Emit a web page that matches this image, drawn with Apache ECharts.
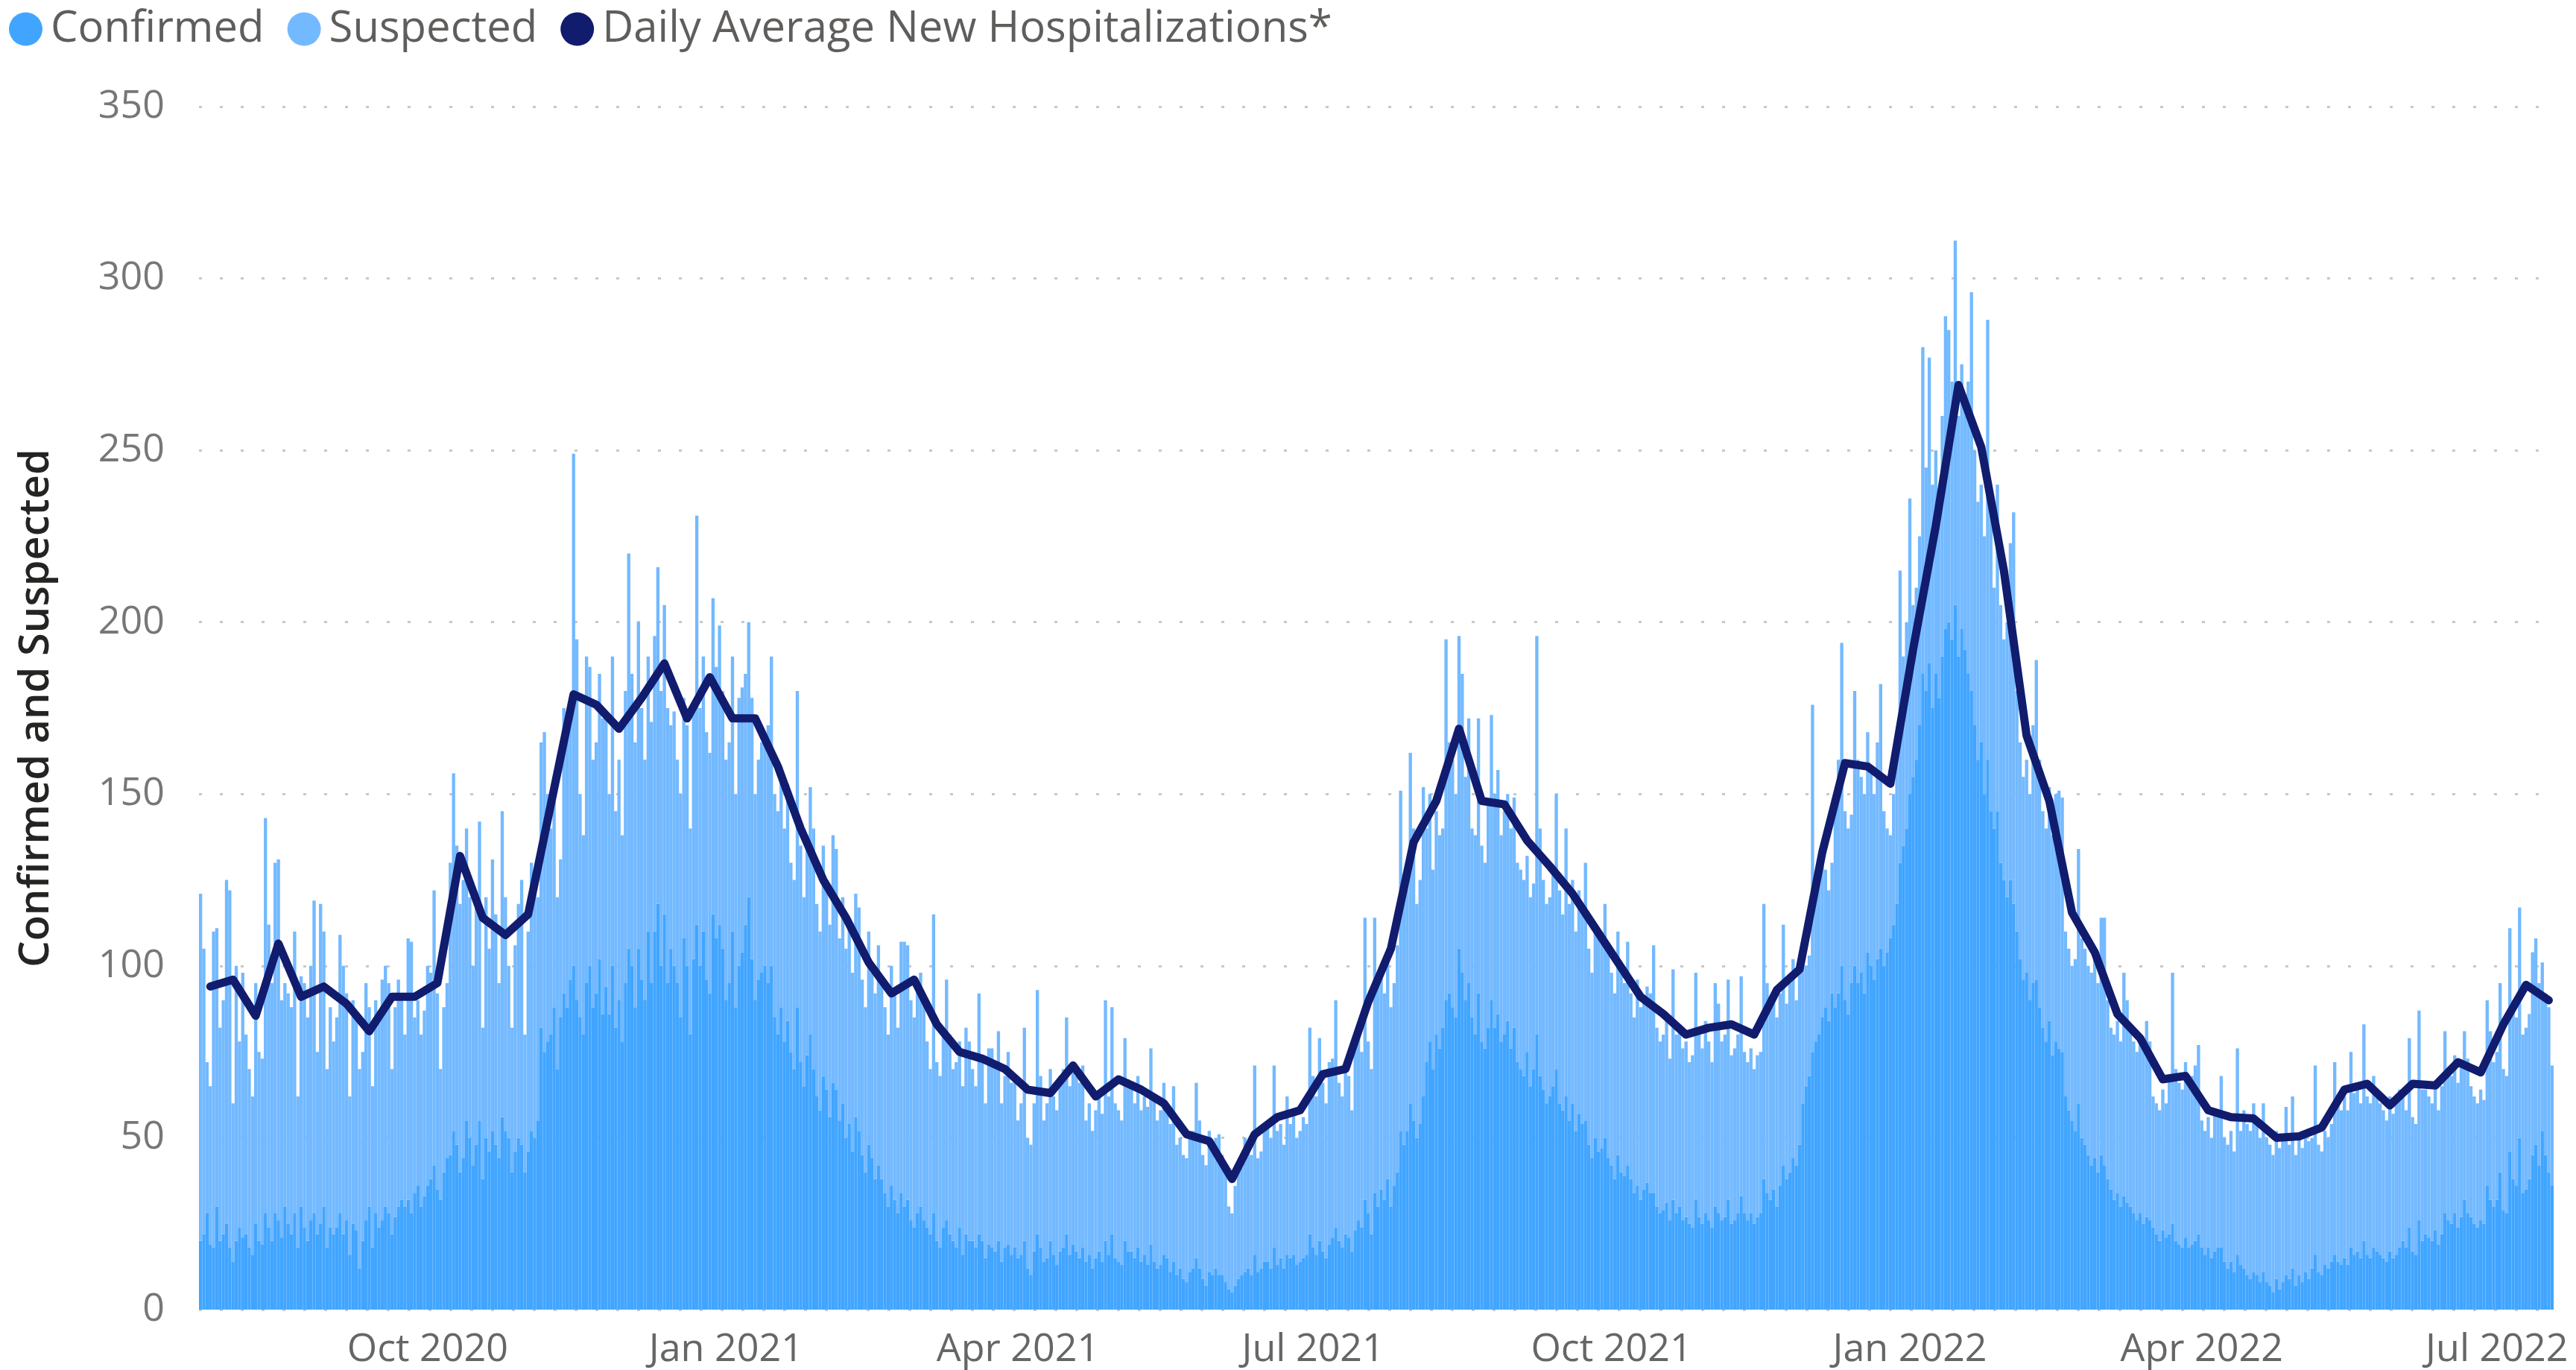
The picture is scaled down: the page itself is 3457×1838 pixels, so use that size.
<!DOCTYPE html>
<html>
<head>
<meta charset="utf-8">
<title>Confirmed and Suspected</title>
<script src="https://cdn.jsdelivr.net/npm/echarts@6/dist/echarts.min.js"></script>
<style>
  html, body { margin: 0; padding: 0; background: #fff; }
  #chart { width: 3457px; height: 1838px; }
</style>
</head>
<body>
<div id="chart"></div>
<script>
// daily categories start here, one bar per day
var startDate = '2020-07-23'
var dayCount = 726
var monthNames = ['Jan', 'Feb', 'Mar', 'Apr', 'May', 'Jun', 'Jul', 'Aug', 'Sep', 'Oct', 'Nov', 'Dec']
var labelMonths = ['01', '04', '07', '10']

// confirmed, one line per week
var confirmed = [
  20,22,28,19,18,30,20, 22,25,18,14,20,24,21, 22,18,16,25,20,19,28, 24,20,28,26,21,30,25,
  22,28,18,30,24,20,26, 28,22,25,30,18,24,22, 24,28,22,26,16,25,23, 12,20,26,30,18,28,24,
  26,30,28,22,27,30,32, 30,32,28,34,36,30,33, 36,38,42,35,32,40,44, 45,52,48,40,44,55,50,
  42,48,55,38,50,46,52, 48,44,56,52,50,40,46, 50,48,40,46,52,50,55, 82,75,78,80,88,70,85,
  92,88,96,100,90,85,80, 95,100,88,92,102,86,94, 86,100,82,90,78,95,105, 100,88,105,96,90,110,95,
  110,118,100,115,95,105,100, 95,85,108,100,80,102,112, 100,110,96,92,115,108,112, 105,90,95,110,88,100,104,
  112,120,102,90,96,98,100, 95,100,85,80,88,78,84, 75,70,88,72,65,74,80, 70,62,58,68,64,56,66,
  64,55,60,50,54,46,56, 52,45,40,48,44,38,42, 38,34,30,36,32,28,34, 30,32,26,24,28,30,26,
  24,22,28,20,18,24,26, 22,20,18,24,16,22,20, 20,18,22,20,15,19,18, 17,20,14,18,19,16,18,
  15,16,20,12,10,17,22, 18,14,15,20,16,13,17, 18,22,16,19,17,15,18, 14,16,12,15,17,14,20,
  16,22,15,14,13,20,17, 17,15,18,14,16,13,19, 14,12,13,16,15,11,14, 10,12,9,8,11,12,15,
  12,9,7,11,10,12,10, 10,8,6,5,7,9,10, 11,12,10,16,11,12,14, 14,12,18,13,15,12,16,
  15,16,13,14,15,16,22, 18,16,20,17,15,19,21, 24,20,18,22,21,17,23, 26,24,32,28,22,34,30,
  35,32,38,30,36,40,52, 48,52,60,55,50,54,62, 72,78,70,80,76,82,90, 92,88,85,105,98,90,95,
  85,80,92,78,76,82,90, 82,86,78,80,84,76,82, 72,70,68,75,65,70,80, 68,64,60,62,65,70,60,
  58,62,55,60,52,57,54, 55,48,44,50,46,47,50, 44,42,38,45,40,39,42, 38,34,36,32,35,37,34,
  34,30,28,29,31,26,32, 28,30,26,27,25,24,32, 27,25,28,26,24,30,28, 26,27,32,25,26,28,33,
  28,26,28,25,27,28,38, 34,32,35,30,36,42,38, 40,44,42,48,60,65,68, 75,78,80,85,88,84,92,
  88,92,100,90,86,95,100, 95,98,92,104,100,96,102, 105,100,104,108,112,118,130, 135,140,150,155,160,170,185,
  180,188,175,185,178,190,198, 200,195,205,190,198,192,185, 180,170,160,165,150,160,145, 140,145,130,125,120,125,118,
  110,102,96,98,90,95,96, 88,82,78,84,74,78,76, 75,62,58,55,52,60,50, 48,45,42,44,40,45,42,
  38,35,32,34,30,33,31, 30,28,26,28,25,27,26, 24,22,20,23,21,22,25, 20,19,18,21,18,19,20,
  22,18,16,18,15,17,18, 18,14,12,14,11,16,13, 12,10,9,11,10,8,11, 8,7,5,9,6,8,10,
  9,12,7,10,8,11,9, 12,16,11,10,13,12,14, 16,14,13,15,13,18,16, 17,15,20,16,15,18,17,
  16,15,14,17,15,16,18, 20,18,24,17,16,26,20, 22,21,20,23,19,22,28, 26,25,28,24,27,32,28,
  27,25,24,26,25,36,32, 30,32,40,29,28,46,38, 36,50,34,35,38,45,48, 42,52,45,40,36
]

// suspected, stacked on top of confirmed
var suspected = [
  101,83,44,46,92,81,62, 68,100,104,46,80,54,77, 58,52,46,70,55,54,115, 88,75,102,105,69,65,67,
  66,82,44,67,71,65,74, 91,53,93,80,52,64,56, 61,81,78,66,46,65,62, 58,55,69,58,47,62,60,
  70,70,67,48,61,66,60, 50,76,79,51,54,50,54, 64,60,80,57,38,48,51, 85,104,87,78,81,85,70,
  58,70,87,44,70,59,79, 67,51,89,68,50,42,60, 68,77,40,64,78,72,65, 83,93,72,60,67,50,46,
  83,80,82,149,105,65,58, 95,87,72,73,83,86,79, 64,90,63,70,60,85,115, 85,77,95,79,70,80,76,
  86,98,80,90,80,65,74, 65,65,70,70,60,73,119, 75,80,72,70,92,79,87, 75,70,70,80,62,78,77,
  73,80,76,60,64,67,66, 75,90,65,65,70,62,69, 55,55,92,63,55,64,72, 70,56,52,67,58,56,72,
  70,53,60,55,58,52,65, 65,51,48,62,54,54,64, 57,54,50,64,60,54,73, 77,74,64,61,67,68,65,
  54,48,87,52,50,58,70, 58,50,54,54,49,60,58, 50,47,70,52,45,57,58, 55,61,46,50,56,50,50,
  40,44,62,38,38,43,71, 50,41,45,50,46,45,51, 52,63,49,53,51,51,53, 41,44,40,43,45,43,70,
  46,66,45,44,42,59,50, 48,45,50,44,46,46,57, 48,43,45,50,45,43,51, 38,38,36,36,41,40,51,
  43,36,35,41,38,38,41, 35,32,24,23,29,33,35, 39,36,35,55,33,34,39, 41,38,53,39,39,36,46,
  39,42,37,38,41,38,60, 50,46,59,49,45,53,52, 66,46,44,48,47,41,53, 54,51,82,50,48,80,66,
  63,60,67,58,59,66,99, 77,78,102,85,68,71,90, 68,72,58,65,62,58,105, 73,72,65,91,87,65,77,
  55,58,80,57,54,66,83, 68,71,60,65,66,64,67, 58,58,57,57,55,54,116, 72,61,58,58,63,80,62,
  57,78,63,65,58,65,63, 75,57,54,60,62,61,68, 61,56,54,65,60,56,65, 54,51,60,56,55,57,58,
  72,52,50,51,53,47,67, 52,52,50,51,47,50,66, 53,51,56,52,48,65,61, 52,53,64,49,50,52,64,
  47,46,48,45,47,47,80, 61,56,55,55,56,70,51, 55,58,48,50,45,35,35, 101,42,45,45,40,38,38,
  62,68,94,55,54,49,80, 65,57,58,64,58,54,63, 77,45,36,30,38,47,85, 55,60,86,50,50,55,95,
  65,89,65,65,57,70,91, 85,75,106,70,77,73,85, 116,80,75,75,75,128,95, 70,95,75,70,80,98,114,
  70,63,59,62,60,75,93, 72,63,62,68,64,72,75, 74,48,47,45,50,74,58, 57,55,56,58,55,69,72,
  52,47,48,50,48,65,59, 52,50,49,52,51,57,52, 38,38,38,41,39,45,73, 50,47,46,51,47,49,51,
  55,37,36,38,35,41,40, 50,36,36,38,35,60,39, 46,44,43,49,45,42,49, 42,41,40,43,41,41,49,
  39,50,38,40,39,41,40, 38,55,37,36,39,38,40, 56,46,45,47,45,57,47, 47,45,63,46,45,50,46,
  44,43,41,45,42,44,46, 42,40,55,39,38,61,44, 42,41,40,43,39,43,53, 44,43,46,42,45,49,45,
  38,37,36,38,36,54,49, 42,43,55,41,40,65,52, 49,67,46,47,48,59,60, 53,49,47,48,35
]

// weekly points of the line, first one on day index 3 then every 7 days
var hospAvg = [
  94, 96, 85.5, 106.5, 91, 94, 89, 81, 91, 91,
  95, 132, 114, 109, 115, 147, 179, 176, 169, 178,
  188, 172, 184, 172, 172, 158, 140, 125, 114, 101,
  92, 96, 83, 75, 73, 70, 64, 63, 71, 62,
  67, 64, 60, 51, 49, 38, 51, 56, 58, 68.5,
  70, 89.5, 105, 136, 148, 169, 148, 147, 136.5, 129,
  121, 111, 101, 91, 86, 80, 82, 83, 80, 93,
  99, 133, 159, 158, 153, 192, 228, 269, 251, 215,
  167, 148, 115.5, 104, 86, 79, 67, 68, 58, 56,
  55.6, 50, 50.4, 53, 64, 65.7, 59.4, 65.7, 65.2, 72,
  69, 83, 94.5, 90
]
var hospFirst = 3
var hospStep = 7

var days = []
var t0 = Date.parse(startDate + 'T00:00:00Z')
for (var i = 0; i < dayCount; i++) {
  days.push(new Date(t0 + i * 86400000).toISOString().slice(0, 10))
}
var hospLine = days.map(function() { return null })
hospAvg.forEach(function(v, k) {
  hospLine[hospFirst + k * hospStep] = v
})

var font = "'Segoe UI', 'Open Sans', sans-serif"
var chart = echarts.init(document.getElementById('chart'))
var option = {
  animation: false,
  backgroundColor: '#ffffff',
  legend: {
    left: 12,
    top: 10,
    padding: 0,
    icon: 'circle',
    itemWidth: 45,
    itemHeight: 45,
    itemGap: 31,
    textStyle: { fontSize: 58, color: '#605E5C', fontFamily: font, padding: [0, 0, 0, 6] },
    data: ['Confirmed', 'Suspected', 'Daily Average New Hospitalizations*']
  },
  grid: { left: 267, right: 30, top: 143, bottom: 81, outerBoundsMode: 'none' },
  xAxis: {
    type: 'category',
    data: days,
    boundaryGap: true,
    axisLine: { show: false },
    axisTick: { show: false },
    axisLabel: {
      color: '#666666',
      fontSize: 52,
      fontFamily: font,
      margin: 28,
      interval: function(index, value) {
        return value.slice(8) === '01' && labelMonths.indexOf(value.slice(5, 7)) >= 0
      },
      formatter: function(value) {
        return monthNames[+value.slice(5, 7) - 1] + ' ' + value.slice(0, 4)
      }
    }
  },
  yAxis: {
    type: 'value',
    min: 0,
    max: 350,
    interval: 50,
    name: 'Confirmed and Suspected',
    nameLocation: 'middle',
    nameGap: 190,
    nameTextStyle: { fontSize: 56, fontWeight: 600, color: '#252423', fontFamily: font },
    axisLine: { show: false },
    axisTick: { show: false },
    axisLabel: { color: '#777777', fontSize: 52, fontFamily: font, margin: 46 },
    splitLine: { lineStyle: { type: [4, 24], color: '#C8C8C8', width: 3 } }
  },
  series: [
    {
      name: 'Confirmed',
      type: 'bar',
      stack: 'total',
      barCategoryGap: '0%',
      itemStyle: { color: '#41A5FF' },
      data: confirmed
    },
    {
      name: 'Suspected',
      type: 'bar',
      stack: 'total',
      barCategoryGap: '0%',
      itemStyle: { color: '#73B9FF' },
      data: suspected
    },
    {
      name: 'Daily Average New Hospitalizations*',
      type: 'line',
      data: hospLine,
      connectNulls: true,
      showSymbol: false,
      symbol: 'none',
      z: 5,
      itemStyle: { color: '#111C6E' },
      lineStyle: { color: '#111C6E', width: 11, join: 'round', cap: 'round' }
    }
  ]
}
chart.setOption(option)
</script>
</body>
</html>
